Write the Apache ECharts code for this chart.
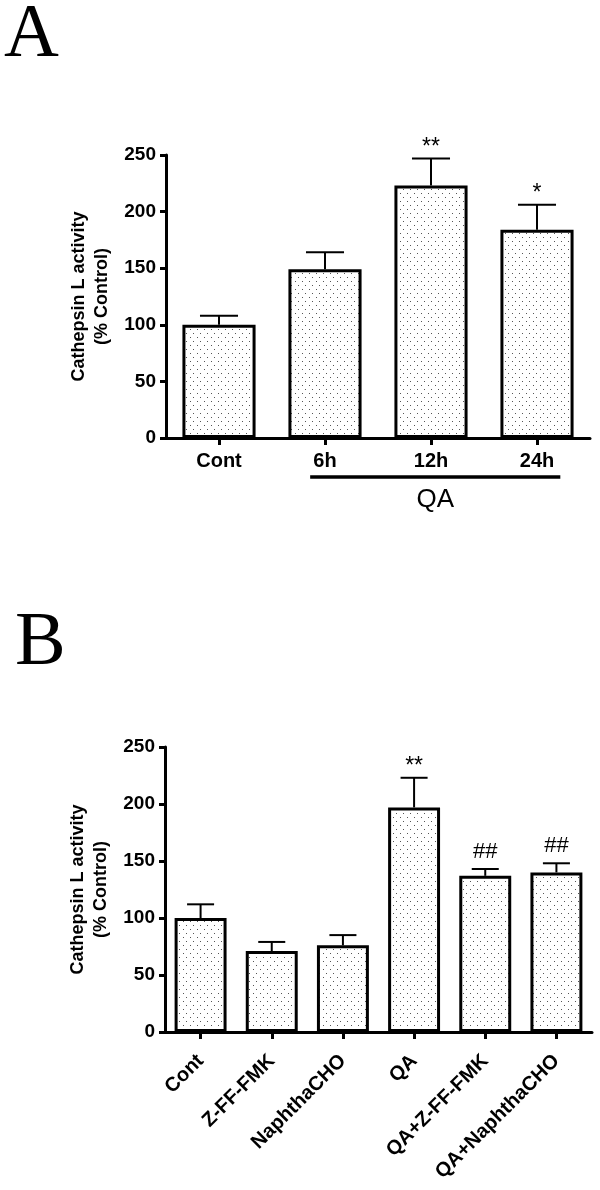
<!DOCTYPE html>
<html>
<head>
<meta charset="utf-8">
<script src="https://cdn.jsdelivr.net/npm/echarts@6/dist/echarts.min.js"></script>
<style>
html,body{margin:0;padding:0;background:#fff;}
#chart{width:600px;height:1190px;}
</style>
</head>
<body>
<div id="chart"></div>
<script>
// ---- Data ----
var categoriesA = ['Cont', '6h', '12h', '24h'];
var meanA = [100, 149, 223, 184];
var errA = [8, 15, 24, 22];
var sigA = ['', '', '**', '*'];
var groupLabelA = 'QA';
var groupRangeA = [1, 3];

var categoriesB = ['Cont', 'Z-FF-FMK', 'NaphthaCHO', 'QA', 'QA+Z-FF-FMK', 'QA+NaphthaCHO'];
var meanB = [100, 71, 76, 197, 137, 140];
var errB = [12, 8, 9, 26, 6, 8];
var sigB = ['', '', '', '**', '##', '##'];

var yTicks = [0, 50, 100, 150, 200, 250];
var yName = 'Cathepsin L activity\n(% Control)';

// ---- Styling helpers ----
var SANS = '"Liberation Sans", Arial, sans-serif';
var SERIF = '"Liberation Serif", "Times New Roman", serif';

function makeDots() {
  var c = document.createElement('canvas');
  c.width = 7; c.height = 8;
  var ctx = c.getContext('2d');
  ctx.fillStyle = '#ffffff';
  ctx.fillRect(0, 0, 7, 8);
  ctx.fillStyle = '#555555';
  ctx.fillRect(1, 1, 1, 1);
  ctx.fillRect(4, 5, 1, 1);
  return c;
}
var dotPattern = { image: makeDots(), repeat: 'repeat' };

function yAxisCfg(gi) {
  return {
    gridIndex: gi, type: 'value',
    min: yTicks[0], max: yTicks[yTicks.length - 1],
    interval: yTicks[1] - yTicks[0],
    axisLine: { show: true, lineStyle: { color: '#000', width: 3 } },
    axisTick: { show: true, length: 6, lineStyle: { color: '#000', width: 3 } },
    splitLine: { show: false },
    axisLabel: { color: '#000', fontFamily: SANS, fontWeight: 'bold', fontSize: 19, margin: 10 },
    name: yName, nameLocation: 'middle', nameGap: 52,
    nameTextStyle: { color: '#000', fontFamily: SANS, fontWeight: 'bold', fontSize: 18, lineHeight: 23, align: 'center' }
  };
}

function xAxisCfg(gi, cats, rotate) {
  var lbl = { color: '#000', fontFamily: SANS, fontWeight: 'bold', fontSize: 20,
              margin: rotate ? 40 : 13, rotate: rotate || 0, interval: 0 };
  if (rotate) { lbl.verticalAlign = 'bottom'; lbl.align = 'right'; lbl.padding = [0, -10, 0, 0]; }
  return {
    gridIndex: gi, type: 'category', data: cats,
    axisLine: { show: true, lineStyle: { color: '#000', width: 3 } },
    axisTick: { show: true, alignWithLabel: true, length: 7, lineStyle: { color: '#000', width: 3 } },
    axisLabel: lbl,
    splitLine: { show: false }
  };
}

function barSeries(gi, vals, frac) {
  return {
    type: 'bar', xAxisIndex: gi, yAxisIndex: gi,
    data: vals, barWidth: (frac * 100) + '%',
    itemStyle: { color: dotPattern, borderColor: '#000', borderWidth: 3 },
    z: 2
  };
}

function errSeries(gi, means, errs, sigs, frac) {
  var d = means.map(function (m, i) { return [i, m, m + errs[i], i]; });
  return {
    type: 'custom', xAxisIndex: gi, yAxisIndex: gi, data: d, clip: false, z: 1,
    renderItem: function (params, api) {
      var i = api.value(0);
      var top = api.coord([i, api.value(1)]);
      var hi = api.coord([i, api.value(2)]);
      var band = api.size([1, 0])[0];
      var half = band * frac * 0.26;
      var children = [
        { type: 'line', shape: { x1: top[0], y1: top[1], x2: hi[0], y2: hi[1] },
          style: { stroke: '#000', lineWidth: 2 } },
        { type: 'line', shape: { x1: hi[0] - half, y1: hi[1], x2: hi[0] + half, y2: hi[1] },
          style: { stroke: '#000', lineWidth: 2 } }
      ];
      var s = sigs[api.value(3)];
      if (s) {
        var isHash = s.indexOf('#') >= 0;
        children.push({
          type: 'text',
          style: {
            text: s, x: hi[0], y: hi[1] - (isHash ? 17 : 11),
            align: 'center', verticalAlign: 'middle',
            fontFamily: SANS, fontSize: isHash ? 22 : 23, fill: '#000'
          }
        });
      }
      return { type: 'group', children: children };
    }
  };
}

function bracketSeries(gi, range, label) {
  return {
    type: 'custom', xAxisIndex: gi, yAxisIndex: gi, data: [[range[0], range[1]]], clip: false, z: 1,
    renderItem: function (params, api) {
      var a = api.coord([api.value(0), 0]);
      var b = api.coord([api.value(1), 0]);
      var band = api.size([1, 0])[0];
      var x1 = a[0] - band * 0.14, x2 = b[0] + band * 0.22;
      var y = a[1] + 39;
      return { type: 'group', children: [
        { type: 'line', shape: { x1: x1, y1: y, x2: x2, y2: y }, style: { stroke: '#000', lineWidth: 3.5 } },
        { type: 'text', style: { text: label, x: (x1 + x2) / 2, y: y + 23, align: 'center', verticalAlign: 'middle',
          fontFamily: SANS, fontSize: 26, fill: '#000' } }
      ] };
    }
  };
}

var FRAC_A = 0.69, FRAC_B = 0.73;

var chart = echarts.init(document.getElementById('chart'), null, { renderer: 'canvas' });
chart.setOption({
  animation: false,
  backgroundColor: '#fff',
  graphic: [
    { type: 'text', x: 4, y: 36, style: { text: 'A', fontFamily: SERIF, fontSize: 76, fill: '#000', verticalAlign: 'middle' } },
    { type: 'text', x: 15, y: 644, style: { text: 'B', fontFamily: SERIF, fontSize: 76, fill: '#000', verticalAlign: 'middle' } }
  ],
  grid: [
    { left: 166, top: 155, width: 424, height: 283 },
    { left: 165, top: 747, width: 427, height: 285 }
  ],
  xAxis: [ xAxisCfg(0, categoriesA, 0), xAxisCfg(1, categoriesB, 45) ],
  yAxis: [ yAxisCfg(0), yAxisCfg(1) ],
  series: [
    barSeries(0, meanA, FRAC_A), errSeries(0, meanA, errA, sigA, FRAC_A), bracketSeries(0, groupRangeA, groupLabelA),
    barSeries(1, meanB, FRAC_B), errSeries(1, meanB, errB, sigB, FRAC_B)
  ]
});
</script>
</body>
</html>
